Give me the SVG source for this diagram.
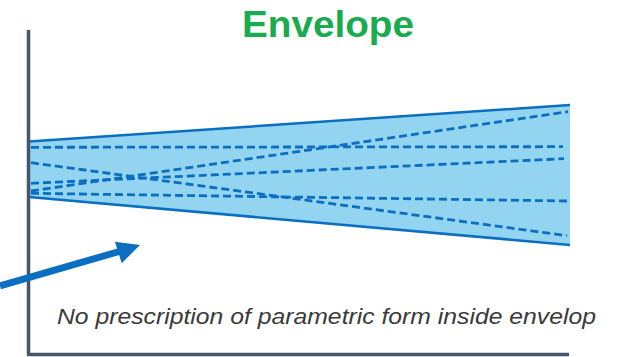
<svg xmlns="http://www.w3.org/2000/svg" width="625" height="357" viewBox="0 0 625 357">
<style>
.title{font-family:"Liberation Sans",Arial,sans-serif;font-weight:bold;font-size:37px;fill:#1aab4f}
.note{font-family:"Liberation Sans",Arial,sans-serif;font-style:italic;font-size:22px;fill:#3a3a3a}
.edge{stroke:#0b6fc1;stroke-width:2.6;fill:none}
.dash{stroke:#0b6fc1;stroke-width:2.8;fill:none;stroke-dasharray:8 4}
.axis{stroke:#46566b;stroke-width:3.5;fill:none}
</style>
<rect width="625" height="357" fill="#ffffff"/>
<g id="envelope">
  <polygon points="29,141.5 570,105 570,245 29,197" fill="#93d4f1"/>
  <line class="edge" x1="29" y1="141.5" x2="570" y2="105"/>
  <line class="edge" x1="29" y1="197" x2="570" y2="245"/>
</g>
<g id="curves">
  <line class="dash" x1="31" y1="147.3" x2="563" y2="146.7"/>
  <line class="dash" x1="31" y1="162.7" x2="567" y2="235.7"/>
  <line class="dash" x1="31" y1="183.3" x2="564" y2="158.7"/>
  <line class="dash" x1="31" y1="191" x2="568" y2="111.7"/>
  <line class="dash" x1="31" y1="193.3" x2="568" y2="201"/>
</g>
<g id="axes">
  <line class="axis" x1="28.5" y1="30" x2="28.5" y2="355"/>
  <line class="axis" x1="27" y1="354.5" x2="569" y2="354.5" stroke-width="3"/>
</g>
<g id="connectors">
  <line x1="0" y1="286" x2="121" y2="251" stroke="#0b6fc1" stroke-width="7"/>
  <polygon points="140,245 115,241.7 121.7,263.3" fill="#0b6fc1"/>
</g>
<g id="labels">
  <text class="title" x="328" y="37" text-anchor="middle" textLength="172" lengthAdjust="spacingAndGlyphs">Envelope</text>
  <text class="note" x="57" y="324" textLength="539" lengthAdjust="spacingAndGlyphs">No prescription of parametric form inside envelop</text>
</g>
</svg>
